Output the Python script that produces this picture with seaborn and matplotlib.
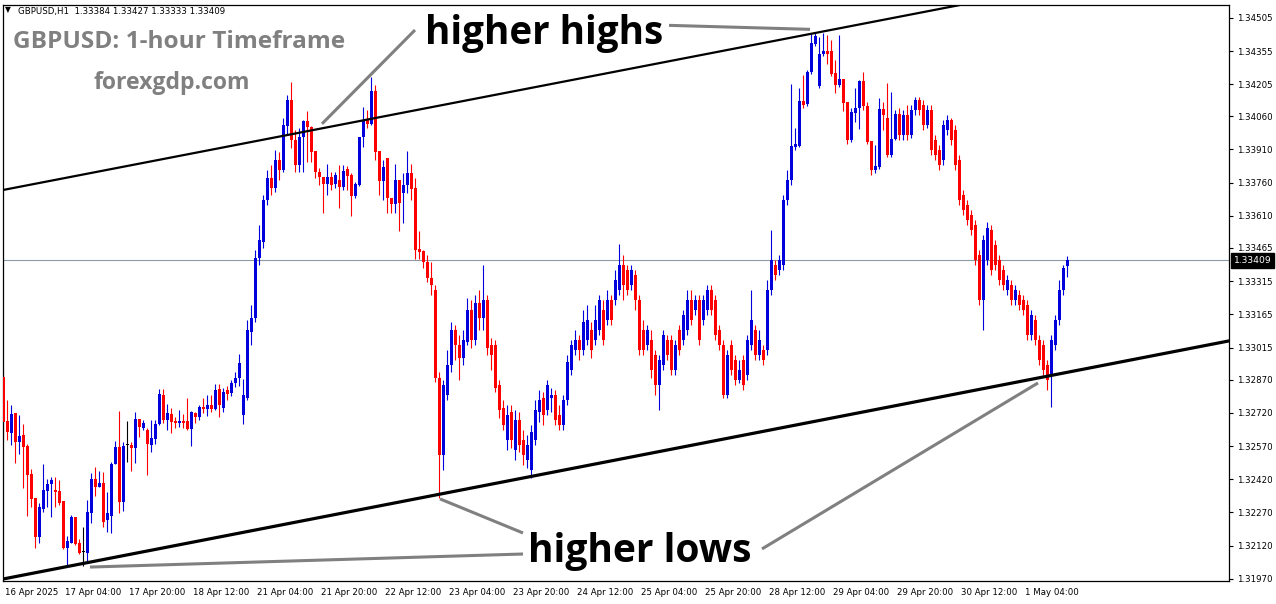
import numpy as np
import matplotlib
matplotlib.use("Agg")
import matplotlib.pyplot as plt
import matplotlib.transforms as mtransforms
import seaborn as sns

# ---------------- data (GBPUSD H1, one value per hourly bar) ----------------
opens = [
 1.32882,1.32683,1.32629,1.32719,1.32588,1.32620,1.32570,1.32444,1.32335,1.32159,
 1.32285,1.32367,1.32398,1.32371,1.32367,1.32321,1.32109,1.32132,1.32249,1.32132,
 1.32091,1.32086,1.32267,1.32421,1.32385,1.32403,1.32236,1.32254,1.32489,1.32566,
 1.32317,1.32575,1.32575,1.32561,1.32692,1.32651,1.32642,1.32575,1.32602,1.32670,
 1.32801,1.32688,1.32715,1.32683,1.32674,1.32683,1.32683,1.32647,1.32719,1.32701,
 1.32746,1.32737,1.32755,1.32737,1.32828,1.32742,1.32823,1.32810,1.32855,1.32877,
 1.32710,1.32787,1.33085,1.33149,1.33420,1.33492,1.33682,1.33781,1.33736,1.33863,
 1.33818,1.34016,1.34134,1.33953,1.33840,1.33967,1.34039,1.34012,1.33903,1.33809,
 1.33786,1.33754,1.33786,1.33754,1.33772,1.33741,1.33822,1.33795,1.33700,1.33750,
 1.33967,1.34044,1.34026,1.34175,1.33903,1.33768,1.33872,1.33691,1.33664,1.33772,
 1.33714,1.33750,1.33804,1.33736,1.33461,1.33451,1.33402,1.33329,1.33275,1.32877,
 1.32529,1.32801,1.32936,1.33094,1.33027,1.32968,1.33040,1.33185,1.33049,1.33216,
 1.33149,1.33230,1.33027,1.33027,1.32846,1.32742,1.32597,1.32724,1.32552,1.32688,
 1.32597,1.32507,1.32462,1.32597,1.32724,1.32787,1.32733,1.32787,1.32801,1.32710,
 1.32665,1.32778,1.32914,1.33004,1.33049,1.33004,1.33049,1.33094,1.33049,1.33094,
 1.33185,1.33140,1.33230,1.33230,1.33275,1.33388,1.33366,1.33298,1.33343,1.33230,
 1.33094,1.33027,1.33049,1.32981,1.32846,1.32936,1.33049,1.33049,1.32914,1.33094,
 1.33049,1.33094,1.33230,1.33185,1.33230,1.33140,1.33185,1.33275,1.33230,1.33094,
 1.33027,1.32801,1.33027,1.32959,1.32868,1.32959,1.32891,1.33027,1.33094,1.32981,
 1.33004,1.33004,1.33275,1.33388,1.33366,1.33388,1.33682,1.33772,1.33922,1.33926,
 1.34129,1.34116,1.34261,1.34387,1.34197,1.34342,1.34355,1.34355,1.34256,1.34202,
 1.34229,1.34125,1.33953,1.34075,1.34098,1.34220,1.34107,1.33949,1.33818,1.33831,
 1.34093,1.34053,1.33885,1.33958,1.34071,1.33976,1.34066,1.33976,1.34089,1.34134,
 1.34111,1.34021,1.34089,1.33953,1.33908,1.33863,1.33998,1.34044,1.33998,1.33863,
 1.33705,1.33659,1.33614,1.33569,1.33433,1.33230,1.33411,1.33546,1.33479,1.33411,
 1.33366,1.33275,1.33298,1.33230,1.33253,1.33230,1.33207,1.33072,1.33140,1.33049,
 1.33027,1.32936,1.32891,1.33027,1.33140,1.33275,1.33384]
highs = [
 1.32918,1.32778,1.32755,1.32719,1.32710,1.32670,1.32579,1.32466,1.32335,1.32312,
 1.32489,1.32421,1.32430,1.32430,1.32416,1.32321,1.32163,1.32258,1.32249,1.32150,
 1.32204,1.32326,1.32448,1.32475,1.32457,1.32453,1.32362,1.32498,1.32593,1.32728,
 1.32588,1.32683,1.32588,1.32724,1.32692,1.32688,1.32651,1.32688,1.32688,1.32828,
 1.32828,1.32760,1.32742,1.32701,1.32733,1.32715,1.32787,1.32728,1.32724,1.32755,
 1.32787,1.32801,1.32801,1.32850,1.32850,1.32832,1.32841,1.32868,1.32905,1.32986,
 1.32873,1.33140,1.33207,1.33456,1.33569,1.33705,1.33818,1.33840,1.33908,1.33899,
 1.34053,1.34157,1.34215,1.33998,1.34007,1.34044,1.34084,1.34016,1.33903,1.33827,
 1.33786,1.33845,1.33809,1.33809,1.33840,1.33840,1.33836,1.33804,1.33763,1.33967,
 1.34102,1.34089,1.34238,1.34202,1.33903,1.33863,1.33872,1.33691,1.33845,1.33772,
 1.33804,1.33903,1.33845,1.33781,1.33542,1.33456,1.33433,1.33402,1.33298,1.32905,
 1.32868,1.33004,1.33131,1.33117,1.33072,1.33094,1.33239,1.33230,1.33253,1.33275,
 1.33388,1.33253,1.33058,1.33049,1.32868,1.32778,1.32755,1.32755,1.32733,1.32724,
 1.32642,1.32620,1.32665,1.32778,1.32823,1.32814,1.32868,1.32832,1.32823,1.32755,
 1.32801,1.32981,1.33049,1.33094,1.33072,1.33185,1.33207,1.33131,1.33207,1.33253,
 1.33230,1.33275,1.33253,1.33366,1.33483,1.33433,1.33388,1.33388,1.33366,1.33253,
 1.33140,1.33117,1.33094,1.33004,1.32981,1.33094,1.33072,1.33072,1.33049,1.33117,
 1.33185,1.33275,1.33275,1.33253,1.33253,1.33253,1.33298,1.33298,1.33253,1.33117,
 1.33049,1.33004,1.33049,1.32981,1.32959,1.32981,1.33072,1.33275,1.33117,1.33094,
 1.33027,1.33320,1.33546,1.33411,1.33433,1.33705,1.33818,1.34206,1.34007,1.34188,
 1.34247,1.34270,1.34432,1.34441,1.34419,1.34437,1.34428,1.34405,1.34315,1.34428,
 1.34229,1.34125,1.34098,1.34188,1.34224,1.34261,1.34125,1.33949,1.33931,1.34143,
 1.34125,1.34211,1.34170,1.34089,1.34098,1.34089,1.34111,1.34111,1.34148,1.34148,
 1.34134,1.34111,1.34111,1.33976,1.33931,1.34044,1.34066,1.34053,1.34021,1.33885,
 1.33727,1.33682,1.33637,1.33592,1.33456,1.33524,1.33583,1.33569,1.33501,1.33433,
 1.33388,1.33343,1.33320,1.33298,1.33275,1.33253,1.33230,1.33185,1.33162,1.33072,
 1.33049,1.32959,1.33072,1.33162,1.33320,1.33388,1.33427]
lows = [
 1.32597,1.32597,1.32575,1.32493,1.32534,1.32380,1.32254,1.32294,1.32109,1.32132,
 1.32272,1.32294,1.32249,1.32294,1.32303,1.32105,1.32023,1.32132,1.32123,1.32082,
 1.32028,1.32041,1.32222,1.32344,1.32385,1.32204,1.32181,1.32177,1.32489,1.32267,
 1.32276,1.32498,1.32457,1.32493,1.32611,1.32642,1.32439,1.32543,1.32579,1.32665,
 1.32674,1.32642,1.32629,1.32651,1.32656,1.32651,1.32642,1.32570,1.32674,1.32688,
 1.32719,1.32706,1.32724,1.32733,1.32701,1.32724,1.32778,1.32796,1.32837,1.32841,
 1.32670,1.32778,1.33027,1.33131,1.33388,1.33465,1.33659,1.33705,1.33718,1.33772,
 1.33809,1.33976,1.33917,1.33809,1.33809,1.33809,1.33854,1.33854,1.33781,1.33750,
 1.33623,1.33705,1.33727,1.33736,1.33646,1.33727,1.33727,1.33610,1.33691,1.33745,
 1.33922,1.34007,1.34021,1.33863,1.33705,1.33682,1.33623,1.33623,1.33623,1.33542,
 1.33578,1.33714,1.33682,1.33415,1.33415,1.33375,1.33311,1.33253,1.32859,1.32335,
 1.32462,1.32778,1.32905,1.32959,1.32868,1.32936,1.33027,1.33013,1.33027,1.33094,
 1.33094,1.32981,1.32914,1.32814,1.32697,1.32642,1.32552,1.32561,1.32507,1.32543,
 1.32484,1.32471,1.32425,1.32575,1.32679,1.32665,1.32710,1.32724,1.32665,1.32642,
 1.32642,1.32755,1.32891,1.32981,1.32959,1.32981,1.33027,1.32968,1.33027,1.33072,
 1.33027,1.33117,1.33117,1.33207,1.33253,1.33230,1.33253,1.33275,1.33185,1.32981,
 1.32981,1.33004,1.32877,1.32801,1.32733,1.32914,1.32959,1.32891,1.32891,1.32981,
 1.33027,1.33072,1.33117,1.33162,1.33027,1.33117,1.33162,1.33162,1.33049,1.33004,
 1.32787,1.32787,1.32891,1.32846,1.32855,1.32823,1.32868,1.33004,1.32959,1.32959,
 1.32936,1.32981,1.33253,1.33320,1.33343,1.33366,1.33659,1.33750,1.33908,1.33922,
 1.34098,1.34107,1.34252,1.34378,1.34188,1.34333,1.34297,1.34242,1.34166,1.34193,
 1.34084,1.33935,1.33944,1.34035,1.34003,1.34089,1.33935,1.33795,1.33804,1.33822,
 1.33998,1.33876,1.33876,1.33953,1.33953,1.33953,1.33953,1.33962,1.34066,1.34066,
 1.33998,1.34007,1.33885,1.33863,1.33818,1.33840,1.33976,1.33931,1.33818,1.33659,
 1.33614,1.33569,1.33524,1.33388,1.33207,1.33094,1.33388,1.33343,1.33366,1.33298,
 1.33275,1.33253,1.33207,1.33207,1.33185,1.33162,1.33049,1.33049,1.33027,1.32936,
 1.32891,1.32823,1.32746,1.33004,1.33117,1.33253,1.33333]
closes = [
 1.32679,1.32633,1.32715,1.32588,1.32615,1.32566,1.32439,1.32331,1.32159,1.32294,
 1.32371,1.32398,1.32416,1.32362,1.32312,1.32109,1.32141,1.32249,1.32127,1.32086,
 1.32091,1.32272,1.32421,1.32385,1.32403,1.32227,1.32267,1.32489,1.32566,1.32317,
 1.32570,1.32575,1.32561,1.32692,1.32656,1.32674,1.32579,1.32606,1.32670,1.32805,
 1.32688,1.32719,1.32679,1.32674,1.32683,1.32674,1.32647,1.32724,1.32701,1.32746,
 1.32737,1.32755,1.32737,1.32823,1.32755,1.32814,1.32805,1.32855,1.32877,1.32945,
 1.32801,1.33094,1.33149,1.33420,1.33501,1.33682,1.33781,1.33736,1.33863,1.33818,
 1.34021,1.34134,1.33953,1.33840,1.33967,1.34039,1.34012,1.33899,1.33809,1.33786,
 1.33754,1.33786,1.33750,1.33795,1.33741,1.33813,1.33790,1.33700,1.33754,1.33967,
 1.34044,1.34026,1.34175,1.33899,1.33768,1.33831,1.33691,1.33664,1.33772,1.33668,
 1.33750,1.33804,1.33732,1.33456,1.33447,1.33402,1.33329,1.33298,1.32877,1.32529,
 1.32846,1.32936,1.33094,1.33027,1.32968,1.33049,1.33185,1.33049,1.33216,1.33149,
 1.33230,1.33013,1.32981,1.32832,1.32733,1.32665,1.32710,1.32597,1.32688,1.32575,
 1.32529,1.32575,1.32633,1.32733,1.32778,1.32710,1.32846,1.32801,1.32688,1.32665,
 1.32778,1.32950,1.33027,1.33049,1.33004,1.33131,1.33140,1.33004,1.33140,1.33230,
 1.33049,1.33230,1.33140,1.33320,1.33388,1.33298,1.33275,1.33366,1.33230,1.33004,
 1.33004,1.33094,1.32914,1.32846,1.32959,1.33072,1.32981,1.32914,1.33027,1.33004,
 1.33162,1.33230,1.33140,1.33230,1.33049,1.33230,1.33275,1.33185,1.33072,1.33027,
 1.32801,1.32981,1.32914,1.32868,1.32914,1.32846,1.33049,1.33140,1.32981,1.33049,
 1.32959,1.33275,1.33411,1.33343,1.33411,1.33682,1.33772,1.33926,1.33935,1.34129,
 1.34111,1.34261,1.34392,1.34423,1.34342,1.34355,1.34342,1.34252,1.34202,1.34229,
 1.34120,1.33953,1.34080,1.34098,1.34220,1.34107,1.33944,1.33818,1.33836,1.34093,
 1.34066,1.33885,1.33958,1.34071,1.33976,1.34066,1.33976,1.34089,1.34134,1.34089,
 1.34021,1.34089,1.33908,1.33885,1.33840,1.34021,1.34044,1.33953,1.33840,1.33682,
 1.33637,1.33592,1.33546,1.33411,1.33230,1.33501,1.33555,1.33366,1.33388,1.33320,
 1.33298,1.33320,1.33230,1.33275,1.33207,1.33185,1.33072,1.33162,1.33049,1.32959,
 1.32914,1.32868,1.33049,1.33140,1.33275,1.33375,1.33409]

time_ticks = [0, 15, 31, 47, 63, 79, 95, 111, 127, 143, 159, 175, 191, 207, 223, 239, 255]
time_labels = ["16 Apr 2025", "17 Apr 04:00", "17 Apr 20:00", "18 Apr 12:00", "21 Apr 04:00",
               "21 Apr 20:00", "22 Apr 12:00", "23 Apr 04:00", "23 Apr 20:00", "24 Apr 12:00",
               "25 Apr 04:00", "25 Apr 20:00", "28 Apr 12:00", "29 Apr 04:00", "29 Apr 20:00",
               "30 Apr 12:00", "1 May 04:00"]
price_labels = ["1.34505", "1.34355", "1.34205", "1.34060", "1.33910", "1.33760", "1.33610",
                "1.33465", "1.33315", "1.33165", "1.33015", "1.32870", "1.32720", "1.32570",
                "1.32420", "1.32270", "1.32120", "1.31970"]
last_price = 1.33409
header = "GBPUSD,H1  1.33384 1.33427 1.33333 1.33409"

# trend lines: (bar, price) anchor pairs
upper_channel = [(-0.1, 1.33727), (239.15, 1.34563)]
lower_channel = [(-0.1, 1.31969), (306.4, 1.33045)]
# annotation connector lines: (bar, price) pairs
connectors = [
    [(166.4, 1.34471), (201.65, 1.34453)],
    [(102.9, 1.34450), (79.65, 1.34026)],
    [(21.65, 1.32023), (129.9, 1.32082)],
    [(109.15, 1.32331), (129.9, 1.32177)],
    [(189.65, 1.32105), (258.65, 1.32855)],
]

# ---------------- figure ----------------
sns.set_theme(style="white")
plt.rcParams["font.family"] = ["DejaVu Sans"]

W, H = 1276, 604
fig = plt.figure(figsize=(W / 100, H / 100), dpi=100)
fig.patch.set_facecolor("white")
ax = fig.add_axes([3 / W, (H - 581) / H, (1229 - 3) / W, (581 - 5) / H])
ax.set_facecolor("white")

o = np.array(opens); h = np.array(highs); l = np.array(lows); c = np.array(closes)
x = np.arange(len(o))
BLUE, RED = "#0000dc", "#ff0000"
cols = np.where(c > o, BLUE, np.where(c < o, RED, "black"))

ax.vlines(x, l, h, colors=cols, linewidth=0.8, zorder=2)
body = np.maximum(np.abs(c - o), 0.00005)
ax.bar(x, body, bottom=np.minimum(o, c), width=0.75, color=cols, linewidth=0, zorder=3)

# current price line
ax.axhline(last_price, color="#8d9aa6", linewidth=0.8, zorder=1)

# channel lines
ax.axline(upper_channel[0], upper_channel[1], color="black", linewidth=1.6, zorder=4)
ax.axline(lower_channel[0], lower_channel[1], color="black", linewidth=2.3, zorder=4)
for seg in connectors:
    ax.plot([seg[0][0], seg[1][0]], [seg[0][1], seg[1][1]], color="#808080",
            linewidth=2.2, solid_capstyle="butt", zorder=5)

ax.set_xlim(-0.1, 306.4)
ax.set_ylim(1.31960, 1.34563)

# axes / ticks
for sp in ax.spines.values():
    sp.set_color("black")
    sp.set_linewidth(0.9)
ax.yaxis.tick_right()
ax.set_yticks([float(v) for v in price_labels])
ax.set_yticklabels(price_labels)
ax.set_xticks(time_ticks)
ax.set_xticklabels(time_labels)
ax.tick_params(axis="both", direction="out", length=3, width=0.8, color="black",
               labelsize=6.2, labelcolor="black", pad=2)
ax.tick_params(axis="y", pad=3)
offset = mtransforms.ScaledTranslation(2 / 100, 0, fig.dpi_scale_trans)
for lab in ax.get_xticklabels():
    lab.set_horizontalalignment("left")
    lab.set_transform(lab.get_transform() + offset)
ax.grid(False)

# last price tag
ax.text(1.004, last_price, f"{last_price:.5f}", transform=ax.get_yaxis_transform(),
        ha="left", va="center", color="white", fontsize=6.6,
        bbox=dict(boxstyle="square,pad=0.3", facecolor="black", edgecolor="black"),
        zorder=10, clip_on=False)

# header and captions
def fx(px): return px / W
def fy(py): return 1 - py / H

fig.text(fx(5), fy(10), "\u25BC", fontsize=5.5, color="black", va="center", ha="left")
fig.text(fx(18), fy(14), header, fontsize=6.2, color="black", va="baseline", ha="left")
fig.text(fx(13), fy(48), "GBPUSD: 1-hour Timeframe", fontsize=17.6, fontweight="bold",
         family="Open Sans", color="#808080", va="baseline", ha="left")
fig.text(fx(93), fy(89), "forexgdp.com", fontsize=16.6, fontweight="bold",
         family="Open Sans", color="#808080", va="baseline", ha="left")
fig.text(fx(425), fy(44), "higher highs", fontsize=27.8, fontweight="bold",
         family="Open Sans", color="black", va="baseline", ha="left")
fig.text(fx(528), fy(562), "higher lows", fontsize=28.1, fontweight="bold",
         family="Open Sans", color="black", va="baseline", ha="left")

fig.savefig("out.png", dpi=100, facecolor="white")
